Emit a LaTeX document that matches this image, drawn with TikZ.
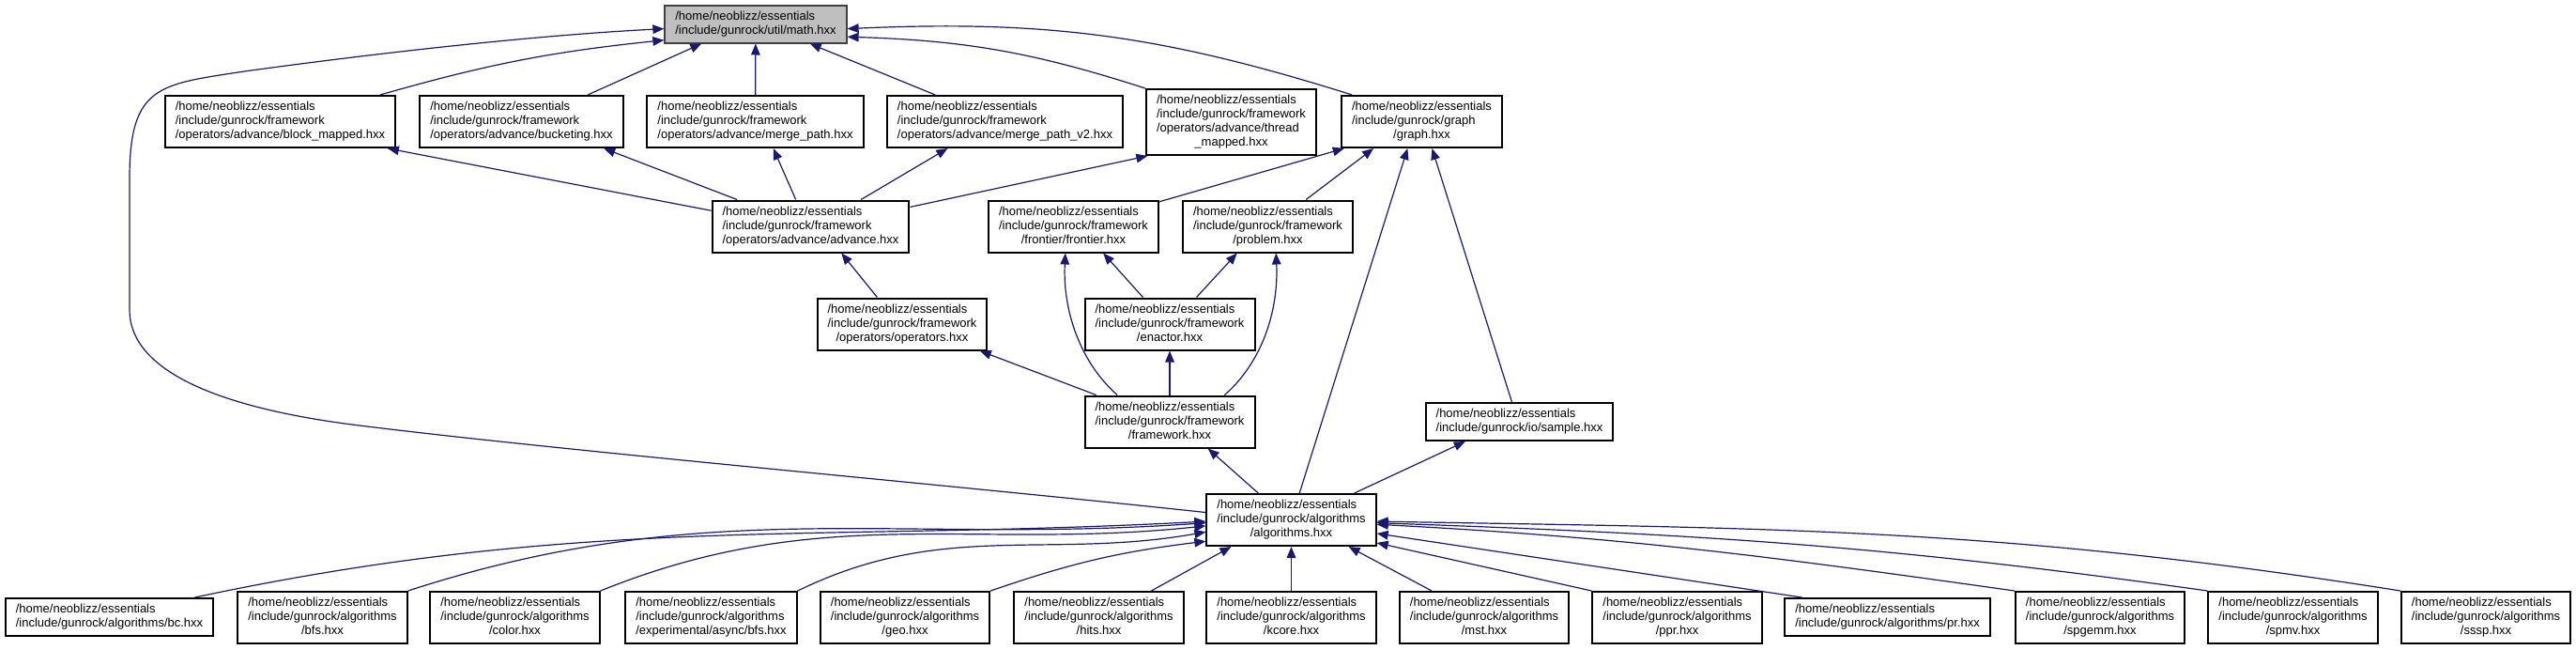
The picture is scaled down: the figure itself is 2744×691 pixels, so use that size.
\documentclass[tikz,border=0pt]{standalone}
\usepackage{fontspec}
\setmainfont{Liberation Sans}
\usetikzlibrary{arrows.meta}

\definecolor{edgeblue}{RGB}{25,25,112}
\definecolor{rootgray}{RGB}{191,191,191}

% label: left-aligned lines, last line centred (as dot does)
\newcommand{\flab}[2]{\begin{tabular}{@{}l@{}}#1\\\multicolumn{1}{@{}c@{}}{#2}\end{tabular}}

\begin{document}
\begin{tikzpicture}[
  x=0.5pt, y=0.5pt,
  file/.style={draw, line width=1pt, fill=white, inner xsep=5.5pt, inner ysep=2.5pt,
               font=\fontsize{6.5}{7.5}\selectfont},
  root/.style={file, fill=rootgray, draw=black!75},
  dep/.style={draw=edgeblue, line width=0.6pt, -{Triangle[length=6pt,width=4.8pt]}}
]
  \useasboundingbox (0,0) rectangle (2744,-691);

  % top
  \node[root] (math) at (805,-25.5) {\flab{/home/neoblizz/essentials}{/include/gunrock/util/math.hxx}};

  % advance operators and graph
  \node[file] (blockmapped) at (298.5,-129.5) {\flab{/home/neoblizz/essentials\\/include/gunrock/framework}{/operators/advance/block\_mapped.hxx}};
  \node[file] (bucketing) at (555.5,-129.5) {\flab{/home/neoblizz/essentials\\/include/gunrock/framework}{/operators/advance/bucketing.hxx}};
  \node[file] (mergepath) at (804.5,-129.5) {\flab{/home/neoblizz/essentials\\/include/gunrock/framework}{/operators/advance/merge\_path.hxx}};
  \node[file] (mergepathv) at (1070.5,-129.5) {\flab{/home/neoblizz/essentials\\/include/gunrock/framework}{/operators/advance/merge\_path\_v2.hxx}};
  \node[file] (threadmapped) at (1311.5,-130) {\flab{/home/neoblizz/essentials\\/include/gunrock/framework\\/operators/advance/thread}{\_mapped.hxx}};
  \node[file] (graph) at (1514.5,-129.5) {\flab{/home/neoblizz/essentials\\/include/gunrock/graph}{/graph.hxx}};

  \node[file] (advance) at (863.5,-241) {\flab{/home/neoblizz/essentials\\/include/gunrock/framework}{/operators/advance/advance.hxx}};
  \node[file] (frontier) at (1143.5,-241) {\flab{/home/neoblizz/essentials\\/include/gunrock/framework}{/frontier/frontier.hxx}};
  \node[file] (problem) at (1350.5,-241) {\flab{/home/neoblizz/essentials\\/include/gunrock/framework}{/problem.hxx}};

  \node[file] (operators) at (961,-345) {\flab{/home/neoblizz/essentials\\/include/gunrock/framework}{/operators/operators.hxx}};
  \node[file] (enactor) at (1246,-345) {\flab{/home/neoblizz/essentials\\/include/gunrock/framework}{/enactor.hxx}};

  \node[file] (framework) at (1246,-449) {\flab{/home/neoblizz/essentials\\/include/gunrock/framework}{/framework.hxx}};
  \node[file] (sample) at (1618.5,-449) {\flab{/home/neoblizz/essentials}{/include/gunrock/io/sample.hxx}};

  \node[file] (algorithms) at (1375.5,-553.5) {\flab{/home/neoblizz/essentials\\/include/gunrock/algorithms}{/algorithms.hxx}};

  % algorithms row
  \node[file] (bc) at (116.5,-657) {\flab{/home/neoblizz/essentials}{/include/gunrock/algorithms/bc.hxx}};
  \node[file] (bfs) at (343.5,-657.5) {\flab{/home/neoblizz/essentials\\/include/gunrock/algorithms}{/bfs.hxx}};
  \node[file] (color) at (548.5,-657.5) {\flab{/home/neoblizz/essentials\\/include/gunrock/algorithms}{/color.hxx}};
  \node[file] (expbfs) at (757.5,-657.5) {\flab{/home/neoblizz/essentials\\/include/gunrock/algorithms}{/experimental/async/bfs.hxx}};
  \node[file] (geo) at (964,-657.5) {\flab{/home/neoblizz/essentials\\/include/gunrock/algorithms}{/geo.hxx}};
  \node[file] (hits) at (1170.5,-657.5) {\flab{/home/neoblizz/essentials\\/include/gunrock/algorithms}{/hits.hxx}};
  \node[file] (kcore) at (1375.5,-657.5) {\flab{/home/neoblizz/essentials\\/include/gunrock/algorithms}{/kcore.hxx}};
  \node[file] (mst) at (1581,-657.5) {\flab{/home/neoblizz/essentials\\/include/gunrock/algorithms}{/mst.hxx}};
  \node[file] (ppr) at (1786.5,-657.5) {\flab{/home/neoblizz/essentials\\/include/gunrock/algorithms}{/ppr.hxx}};
  \node[file] (pr) at (2010.5,-657) {\flab{/home/neoblizz/essentials}{/include/gunrock/algorithms/pr.hxx}};
  \node[file] (spgemm) at (2237,-657.5) {\flab{/home/neoblizz/essentials\\/include/gunrock/algorithms}{/spgemm.hxx}};
  \node[file] (spmv) at (2442.5,-657.5) {\flab{/home/neoblizz/essentials\\/include/gunrock/algorithms}{/spmv.hxx}};
  \node[file] (sssp) at (2648,-657.5) {\flab{/home/neoblizz/essentials\\/include/gunrock/algorithms}{/sssp.hxx}};

  % into math.hxx
  \draw[dep] (algorithms.175) .. controls (1000,-515) and (600,-480) .. (383,-453)
    .. controls (220,-433) and (138,-390) .. (138,-330) -- (138,-190)
    .. controls (138,-90) and (170,-90) .. (260,-76)
    .. controls (450,-50) and (600,-36) .. (math.183);
  \draw[dep] (blockmapped.15) to[bend left=5] (math.190);
  \draw[dep] (bucketing.22) -- (math.200);
  \draw[dep] (mergepath) -- (math);
  \draw[dep] (mergepathv.159) -- (math.340);
  \draw[dep] (threadmapped.north west) to[bend right=8] (math.352);
  \draw[dep] (graph.159) to[bend right=10] (math.357);

  % into the advance operators
  \draw[dep] (advance.171) -- (blockmapped.346);
  \draw[dep] (advance.160) -- (bucketing.342);
  \draw[dep] (advance.119) -- (mergepath.304);
  \draw[dep] (advance.28) -- (mergepathv.205);
  \draw[dep] (advance.11) -- (threadmapped.202);

  % into graph.hxx
  \draw[dep] (frontier.16) -- (graph.199);
  \draw[dep] (problem.35) -- (graph.209);
  \draw[dep] (algorithms.73) -- (graph.242);
  \draw[dep] (sample.111) -- (graph.291);

  % framework
  \draw[dep] (framework.153) .. controls (1150,-385) and (1132,-330) .. (frontier.253);
  \draw[dep] (enactor.135) -- (frontier.318);
  \draw[dep] (enactor.45) -- (problem.221);
  \draw[dep] (framework.26) .. controls (1345,-385) and (1362,-330) .. (problem.287);
  \draw[dep] (operators.133) -- (advance.319);
  \draw[dep] (framework.160) -- (operators.341);
  \draw[dep] (framework) -- (enactor);
  \draw[dep] (algorithms.141) -- (framework.325);
  \draw[dep] (algorithms.23) -- (sample.200);

  % into algorithms.hxx
  \draw[dep] (bc.13) to[out=12,in=183] (algorithms.181);
  \draw[dep] (bfs.north east) to[out=18,in=184] (algorithms.182);
  \draw[dep] (color.north east) to[out=22,in=186] (algorithms.184);
  \draw[dep] (expbfs.north east) to[out=26,in=190] (algorithms.188);
  \draw[dep] (geo.north east) to[bend left=6] (algorithms.194);
  \draw[dep] (hits.27) -- (algorithms.204);
  \draw[dep] (kcore) -- (algorithms);
  \draw[dep] (mst.153) -- (algorithms.335);
  \draw[dep] (ppr.north west) -- (algorithms.345);
  \draw[dep] (pr.167) -- (algorithms.351);
  \draw[dep] (spgemm.north west) to[out=172,in=357] (algorithms.357);
  \draw[dep] (spmv.north west) to[out=172,in=358] (algorithms.358);
  \draw[dep] (sssp.north west) to[out=171,in=359] (algorithms.359);
\end{tikzpicture}
\end{document}
